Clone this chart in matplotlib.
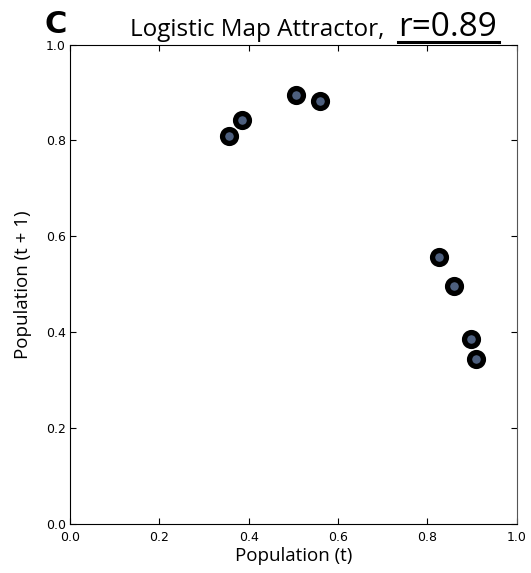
import matplotlib.pyplot as plt
import matplotlib.lines as mlines

# points of the attractor: population at t and t+1
pop_t = [0.357, 0.386, 0.507, 0.561, 0.827, 0.859, 0.897, 0.910]
pop_t1 = [0.810, 0.843, 0.894, 0.883, 0.557, 0.497, 0.386, 0.344]
ticks = [0.0, 0.2, 0.4, 0.6, 0.8, 1.0]

fig = plt.figure(figsize=(5.31, 5.73), dpi=100)
ax = fig.add_axes([0.1318, 0.0855, 0.8409, 0.8368])

ax.plot(pop_t, pop_t1, 'o', ls='none', ms=10, mfc='#4d5f7e', mec='black', mew=3.8)

ax.set_xlim(0, 1)
ax.set_ylim(0, 1)
ax.set_xticks(ticks)
ax.set_yticks(ticks)
ax.set_xticklabels([f'{t:.1f}' for t in ticks])
ax.set_yticklabels([f'{t:.1f}' for t in ticks])
ax.tick_params(direction='in', top=True, right=True, labelsize=9, length=4)
ax.tick_params(axis='x', pad=5)
ax.tick_params(axis='y', pad=3)
for s in ['top', 'left', 'bottom']:
    ax.spines[s].set_color('black')
ax.spines['right'].set_color('#555555')

ax.set_xlabel('Population (t)', fontsize=13.5, family='Open Sans', labelpad=2)
ax.set_ylabel('Population (t + 1)', fontsize=13.5, family='Open Sans', labelpad=10)

# title pieces
fig.text(0.083, 0.942, 'C', fontsize=22, weight='bold', family='DejaVu Sans')
fig.text(0.245, 0.938, 'Logistic Map Attractor, ', fontsize=17.5, family='Open Sans')
fig.text(0.75, 0.938, 'r=0.89', fontsize=24, family='Open Sans',
         bbox=dict(facecolor='white', edgecolor='none', pad=1))
fig.add_artist(mlines.Line2D([0.75, 0.94], [0.927, 0.927], color='black', lw=2.2, zorder=10))

fig.savefig('out.png', dpi=100)
